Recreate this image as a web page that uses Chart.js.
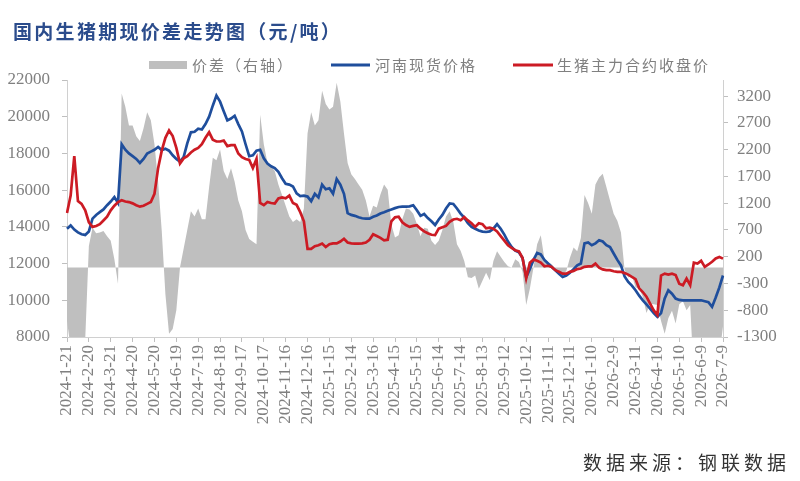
<!DOCTYPE html>
<html>
<head>
<meta charset="utf-8">
<script src="https://cdn.jsdelivr.net/npm/chart.js@4.4.1/dist/chart.umd.min.js"></script>
<style>
html,body{margin:0;padding:0;background:#fff;}
#wrap{position:relative;width:800px;height:481px;overflow:hidden;background:#fff;}
canvas{position:absolute;left:0;top:0;}
#title{position:absolute;left:13px;top:17px;font:700 19px "Noto Sans CJK SC";letter-spacing:2.3px;color:#2B4C8C;white-space:nowrap;line-height:28px;}
#source{position:absolute;left:583px;top:449px;font:400 19px "Noto Sans CJK SC";letter-spacing:4px;color:#333;white-space:nowrap;line-height:26px;}
</style>
</head>
<body>
<div id="wrap">
<canvas id="c" width="800" height="481"></canvas>
<div id="title">国内生猪期现价差走势图（元/吨）</div>
<div id="source">数据来源：钢联数据</div>
</div>
<script>
// ---- data (one point every 5 days, 2024-1-21 .. 2026-7-9) ----
const startDate = '2024-01-21';
const stepDays = 5;
const labelEvery = 6; // a date label every 30 days

const xTickLabels = ['2024-1-21','2024-2-20','2024-3-21','2024-4-20','2024-5-20','2024-6-19','2024-7-19','2024-8-18','2024-9-17','2024-10-17','2024-11-16','2024-12-16','2025-1-15','2025-2-14','2025-3-16','2025-4-15','2025-5-15','2025-6-14','2025-7-14','2025-8-13','2025-9-12','2025-10-12','2025-11-11','2025-12-11','2026-1-10','2026-2-9','2026-3-11','2026-4-10','2026-5-10','2026-6-9','2026-7-9'];

const leftTicks = [8000,10000,12000,14000,16000,18000,20000,22000];
const rightTicks = [-1300,-800,-300,200,700,1200,1700,2200,2700,3200];

const spotPrice = [
13900,14080,13850,13700,13600,13560,13750,14450,14650,14800,
14950,15180,15380,15620,15300,18500,18200,18000,17850,17700,
17480,17700,18000,18100,18200,18350,18180,18250,18150,17900,
17700,17550,17800,18550,19150,19180,19350,19300,19600,20000,
20600,21150,20820,20300,19800,19900,20050,19600,19200,18500,
17850,17900,18150,18200,17730,17450,17300,17200,17000,16650,
16350,16300,16200,15820,15680,15700,15650,15400,15800,15600,
16300,16050,16100,15800,16600,16300,15800,14750,14650,14600,
14520,14470,14450,14450,14550,14620,14730,14800,14880,14950,
15020,15080,15100,15100,15120,15180,14910,14600,14700,14480,
14300,14100,14400,14650,15000,15280,15250,15000,14720,14500,
14200,14000,13900,13800,13740,13720,13750,13900,14150,13900,
13580,13200,12900,12700,12620,12300,11250,11700,12200,12580,
12500,12200,12000,11820,11640,11450,11270,11350,11500,11700,
11900,12000,13100,13150,13000,13100,13270,13200,13000,12900,
12550,12200,11900,11300,11000,10800,10550,10250,10000,9780,
9550,9300,9100,9300,10100,10550,10360,10090,10020,10000,
10000,10000,10000,10000,10000,9950,9900,9640,10150,10700,
11350];

const futuresPrice = [
14750,15700,17850,15400,15250,14900,14250,14000,14050,14150,
14350,14550,14900,15150,15350,15450,15380,15350,15280,15180,
15100,15150,15250,15350,15800,17200,18150,18850,19250,18950,
18300,17450,17730,17850,18050,18200,18300,18500,18850,19150,
18750,18650,18650,18700,18400,18450,18450,18000,17800,17700,
17650,17200,17700,15300,15180,15360,15300,15270,15550,15600,
15550,15700,15300,15200,14800,14300,12800,12800,12950,13000,
13090,12900,13050,13100,13100,13200,13350,13150,13100,13090,
13090,13100,13150,13300,13600,13500,13400,13270,13300,14300,
14520,14550,14250,14100,14000,14050,14090,13900,13750,13650,
13570,13550,13900,13980,14050,14270,14400,14440,14360,14530,
14350,14200,14000,14200,14150,13920,13960,13900,13750,13500,
13250,13000,12850,12730,12660,12300,11200,12050,12220,12150,
12050,11850,11880,11820,11640,11550,11450,11450,11550,11600,
11700,11730,11820,11850,11850,12000,11780,11680,11640,11640,
11580,11550,11550,11480,11400,11270,11150,10650,10450,10200,
9820,9450,9200,11350,11450,11400,11450,11380,10900,10820,
11180,10820,12050,12000,12150,11820,11950,12100,12280,12360,
12270];

const basisSpread = [
-1000,-1500,-3800,-1700,-1650,-1350,400,740,640,650,
680,580,500,150,-310,3250,3000,2650,2650,2450,
2360,2600,2900,2750,2300,1600,680,-500,-1240,-1150,
-800,0,350,700,1050,950,1100,900,900,1500,
2050,2000,2200,1800,1650,1850,1600,1250,1050,700,
530,480,430,2850,2300,1950,1900,1800,1550,1350,
1150,950,850,900,850,1100,2500,2900,2650,2750,
3300,3050,2950,3000,3450,3100,2500,1950,1740,1650,
1550,1450,1250,950,1150,1120,1360,1550,1450,800,
560,600,900,1100,1080,1000,810,580,740,720,
500,420,500,700,950,1050,850,430,310,120,
-186,-200,-150,-400,-250,-100,-240,120,300,200,
100,20,0,150,100,-80,-700,-400,0,430,
600,150,100,60,-30,-60,-120,-70,180,370,
300,550,1350,1200,1000,1550,1680,1750,1500,1250,
1000,870,650,-50,-190,-150,-370,-400,-550,-850,
-680,-690,-700,-1000,-1240,-950,-810,-1050,-690,-630,
-800,-700,-2050,-2000,-2150,-1850,-2050,-2450,-2100,-1650,
-1100];

// category labels (dates every stepDays)
function fmt(d){return d.getUTCFullYear()+'-'+(d.getUTCMonth()+1)+'-'+d.getUTCDate();}
const categories = [];
{
  const d0 = new Date(startDate + 'T00:00:00Z');
  for (let i = 0; i < spotPrice.length; i++) {
    categories.push(fmt(new Date(d0.getTime() + i * stepDays * 86400000)));
  }
}

const TICK_FONT = {family: 'Liberation Serif', size: 17};
const TICK_COLOR = '#808080';
const AXIS_COLOR = '#D0D0D0';

const legendItems = [
  {label: '价差（右轴）', type: 'box', color: '#BFBFBF', x0: 149, x1: 187, tx: 192},
  {label: '河南现货价格', type: 'line', color: '#1F4E9C', x0: 331, x1: 370, tx: 375},
  {label: '生猪主力合约收盘价', type: 'line', color: '#CC1B24', x0: 513, x1: 553, tx: 557}
];

const legendPlugin = {
  id: 'customLegend',
  afterDraw(chart) {
    const ctx = chart.ctx;
    const y = 65;
    ctx.save();
    ctx.font = '15px "Noto Sans CJK SC"';
    try { ctx.letterSpacing = '2px'; } catch (e) {}
    ctx.textBaseline = 'middle';
    ctx.textAlign = 'left';
    legendItems.forEach(it => {
      if (it.type === 'box') {
        ctx.fillStyle = it.color;
        ctx.fillRect(it.x0, y - 4, it.x1 - it.x0, 8);
      } else {
        ctx.strokeStyle = it.color;
        ctx.lineWidth = 3;
        ctx.beginPath();
        ctx.moveTo(it.x0, y);
        ctx.lineTo(it.x1, y);
        ctx.stroke();
      }
      ctx.fillStyle = '#808080';
      ctx.fillText(it.label, it.tx, y);
    });
    ctx.restore();
  }
};

new Chart(document.getElementById('c'), {
  type: 'line',
  data: {
    labels: categories,
    datasets: [
      {label: '价差（右轴）', data: basisSpread, yAxisID: 'y1', fill: 'origin',
       backgroundColor: '#BFBFBF', borderColor: 'rgba(0,0,0,0)', borderWidth: 0,
       pointRadius: 0, tension: 0, order: 2},
      {label: '河南现货价格', data: spotPrice, yAxisID: 'y', fill: false,
       borderColor: '#1F4E9C', borderWidth: 2.7, pointRadius: 0, tension: 0, order: 1},
      {label: '生猪主力合约收盘价', data: futuresPrice, yAxisID: 'y', fill: false,
       borderColor: '#CC1B24', borderWidth: 2.7, pointRadius: 0, tension: 0, order: 0}
    ]
  },
  options: {
    responsive: false,
    animation: false,
    events: [],
    layout: {padding: {top: 80, left: 0, right: 0, bottom: 0}},
    plugins: {legend: {display: false}, tooltip: {enabled: false}, title: {display: false}},
    scales: {
      x: {
        type: 'category',
        offset: false,
        grid: {display: true, drawOnChartArea: false, drawTicks: true, tickLength: 5, color: '#BFBFBF'},
        border: {display: true, color: AXIS_COLOR},
        ticks: {autoSkip: false, maxRotation: 90, minRotation: 90, padding: 3, color: TICK_COLOR, font: TICK_FONT,
                callback: (v, i) => xTickLabels[i]},
        afterBuildTicks: s => { s.ticks = s.ticks.filter(t => t.value % labelEvery === 0); },
        afterFit: s => { s.height = 144; }
      },
      y: {
        position: 'left',
        min: leftTicks[0],
        max: leftTicks[leftTicks.length - 1],
        grid: {drawOnChartArea: false, tickLength: 5, color: '#BFBFBF'},
        border: {display: true, color: AXIS_COLOR},
        ticks: {color: TICK_COLOR, font: TICK_FONT, padding: 12, callback: v => String(v)},
        afterBuildTicks: s => { s.ticks = leftTicks.map(v => ({value: v})); },
        afterFit: s => { s.width = 67; }
      },
      y1: {
        position: 'right',
        min: -1300,
        max: 3500,
        grid: {drawOnChartArea: false, tickLength: 5, color: '#BFBFBF'},
        border: {display: true, color: AXIS_COLOR},
        ticks: {color: TICK_COLOR, font: TICK_FONT, padding: 9, callback: v => String(v)},
        afterBuildTicks: s => { s.ticks = rightTicks.map(v => ({value: v})); },
        afterFit: s => { s.width = 77; }
      }
    }
  },
  plugins: [legendPlugin]
});
</script>
</body>
</html>
